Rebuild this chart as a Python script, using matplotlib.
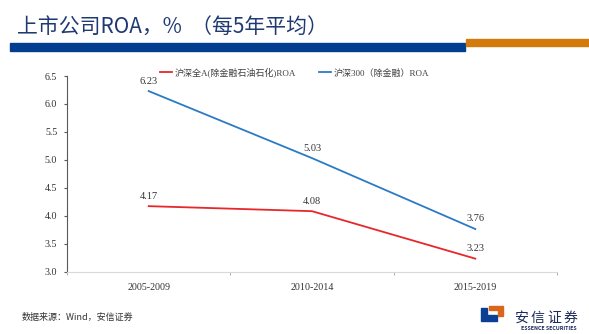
import matplotlib.pyplot as plt
from matplotlib.patches import Rectangle, Polygon

# --- dados ---
periods = ['2005-2009', '2010-2014', '2015-2019']
roa_all_a = [4.17, 4.08, 3.23]
roa_hs300 = [6.23, 5.03, 3.76]
label_all_a = '沪深全A(除金融石油石化)ROA'
label_hs300 = '沪深300（除金融）ROA'

W, H = 589, 334
SERIF = ['Liberation Serif', 'Noto Sans CJK SC']
SANS = ['Noto Sans CJK SC', 'DejaVu Sans']

fig = plt.figure(figsize=(W / 100, H / 100), dpi=100)
fig.patch.set_facecolor('white')

# title + bars
fig.text(17 / W, 1 - 27 / H, '上市公司ROA，%  （每5年平均）', family=SANS,
         fontsize=15, color='#1f3a73', va='center', ha='left')
fig.patches.append(Rectangle((10 / W, 1 - 51 / H), 455 / W, 8 / H,
                             transform=fig.transFigure, color='#033d8f'))
fig.patches.append(Rectangle((466 / W, 1 - 46 / H), 123 / W, 7 / H,
                             transform=fig.transFigure, color='#d27b0c'))

ax = fig.add_axes([67 / W, 1 - 271.5 / H, 490 / W, 195.5 / H])
x = list(range(len(periods)))
ax.plot(x, roa_all_a, color='#e8272a', lw=1.3, label=label_all_a)
ax.plot(x, roa_hs300, color='#2b7bc4', lw=1.3, label=label_hs300)

for xs, ys in [(x, roa_all_a), (x, roa_hs300)]:
    for xi, yi in zip(xs, ys):
        ax.annotate(f'{yi:.2f}', (xi, yi), xytext=(0, 4), textcoords='offset points',
                    ha='center', va='bottom', fontsize=7.5, family=SERIF, color='#333333')

ax.set_xlim(-0.5, 2.5)
ax.set_ylim(3.0, 6.5)
ax.set_yticks([3.0, 3.5, 4.0, 4.5, 5.0, 5.5, 6.0, 6.5])
ax.set_yticklabels([f'{v:.1f}' for v in ax.get_yticks()])
ax.set_xticks(x)
ax.set_xticklabels(periods)
ax.set_xticks([-0.5, 0.5, 1.5, 2.5], minor=True)
ax.tick_params(axis='x', which='major', length=0, pad=8)
ax.tick_params(axis='x', which='minor', length=2, color='#a0a0a0')
ax.tick_params(axis='y', length=2, color='#595959', pad=5)
for lab in ax.get_xticklabels() + ax.get_yticklabels():
    lab.set_family(SERIF)
    lab.set_fontsize(7.2)
    lab.set_color('#333333')

ax.spines['top'].set_visible(False)
ax.spines['right'].set_visible(False)
ax.spines['left'].set_color('#595959')
ax.spines['bottom'].set_color('#d9d9d9')

leg = ax.legend(loc='center', bbox_to_anchor=(294.5 / W, 1 - 72.5 / H),
                bbox_transform=fig.transFigure, ncol=2, frameon=False,
                handlelength=1.3, handletextpad=0.3, columnspacing=2.6,
                prop={'family': SERIF, 'size': 6.5})
for t in leg.get_texts():
    t.set_color('#404040')

# fonte
fig.text(22 / W, 1 - 317 / H, '数据来源：Wind，安信证券', family=SANS,
         fontsize=6.5, color='#333333', va='center', ha='left')

# logo
blue_pts = [(481, 308), (487, 308), (487, 315), (497, 315), (497, 321), (481, 321)]
orange_pts = [(489, 306), (503, 306), (503, 316), (498, 316), (498, 310), (489, 310)]
for pts, col in [(blue_pts, '#0b3f94'), (orange_pts, '#d9661a')]:
    fig.patches.append(Polygon([(px / W, 1 - py / H) for px, py in pts], closed=True,
                               transform=fig.transFigure, color=col))
for i, ch in enumerate('安信证券'):
    fig.text((521 + i * 16.5) / W, 1 - 318 / H, ch, family=SANS, fontsize=10,
             color='#1c2a5a', ha='center', va='center')
fig.text(548.5 / W, 1 - 328 / H, 'ESSENCE SECURITIES', family=SANS, fontsize=3.8,
         color='#1c2a5a', ha='center', va='center', weight='bold')

fig.savefig('out.png', dpi=100)
